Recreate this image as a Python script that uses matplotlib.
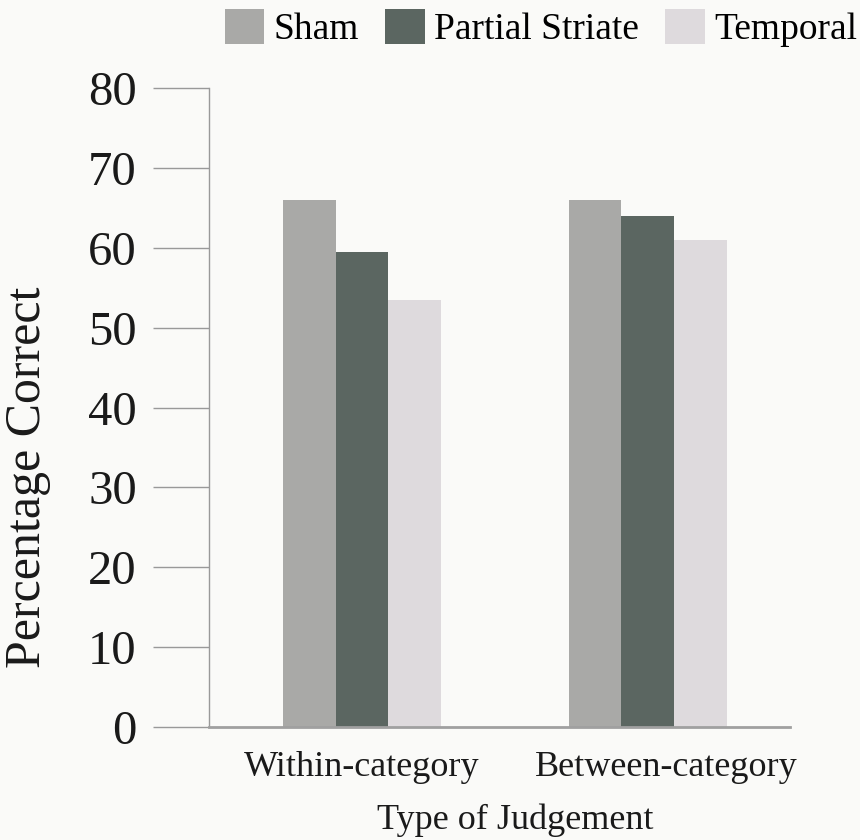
import matplotlib
matplotlib.use('Agg')
import matplotlib.pyplot as plt
import numpy as np

# values
categories = ['Within-category', 'Between-category']
groups = ['Sham', 'Partial Striate', 'Temporal']
sham = [66, 66]
partial_striate = [59.5, 64]
temporal = [53.5, 61]
y_ticks = [0, 10, 20, 30, 40, 50, 60, 70, 80]

colors = ['#a9a9a7', '#5b6661', '#dedadd']

plt.rcParams['font.family'] = ['Liberation Serif', 'DejaVu Serif']

fig = plt.figure(figsize=(8.6, 8.4), dpi=100, facecolor='#fafaf8')
ax = fig.add_axes([209 / 860, 113 / 840, 581 / 860, 639 / 840])
ax.set_facecolor('#fafaf8')

x = np.arange(len(categories))
w = 0.185
series = [sham, partial_striate, temporal]
for i, (vals, name) in enumerate(zip(series, groups)):
    ax.bar(x + (i - 1) * w, vals, width=w, color=colors[i], label=name,
           edgecolor='none', zorder=2)

ax.set_xlim(-0.535, 1.497)
ax.set_ylim(0, 80)
ax.set_yticks(y_ticks)
# labels sit a little right of the group centre in the original
ax.set_xticks(x + np.array([0.0, 0.063]))
ax.set_xticklabels(categories, fontsize=26)
ax.tick_params(axis='x', length=0, pad=17, labelcolor='#1a1a1a')
ax.tick_params(axis='y', length=40, width=1, color='#999999', labelsize=35,
               pad=12, colors='#999999', labelcolor='#1a1a1a')

for s in ['top', 'right']:
    ax.spines[s].set_visible(False)
ax.spines['left'].set_color('#999999')
ax.spines['left'].set_linewidth(1)
ax.spines['bottom'].set_color('#a0a0a0')
ax.spines['bottom'].set_linewidth(2)

ax.set_xlabel('Type of Judgement', fontsize=26, color='#1a1a1a')
ax.xaxis.set_label_coords(0.527, -0.12)
ax.set_ylabel('Percentage Correct', fontsize=36, color='#1a1a1a')
ax.yaxis.set_label_coords(-0.272, 0.391)

fig.legend(loc='upper right', bbox_to_anchor=(857 / 860, 1 - 9 / 840), ncol=3,
           frameon=False, fontsize=27, handlelength=1.05, handleheight=1.05,
           handletextpad=0.25, columnspacing=0.7, borderpad=0, borderaxespad=0)

fig.savefig('out.png', dpi=100, facecolor=fig.get_facecolor())
